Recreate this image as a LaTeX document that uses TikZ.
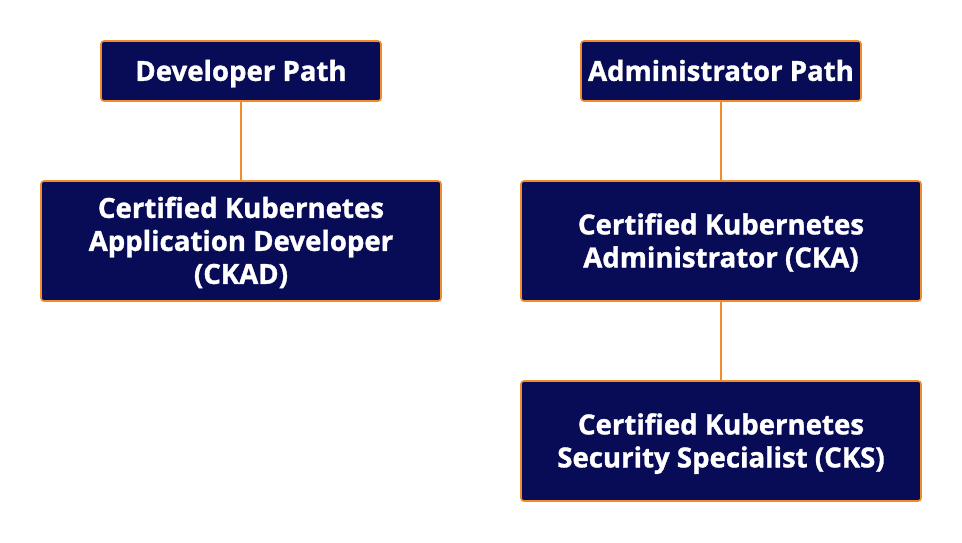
\documentclass[tikz,border=0pt]{standalone}
\usepackage{fontspec}
\setmainfont{Open Sans}[UprightFont=* Bold,UprightFeatures={FakeBold=1.2}]
\definecolor{navy}{HTML}{080B56}
\definecolor{borange}{HTML}{F28C28}
\begin{document}
\begin{tikzpicture}[x=1pt,y=-1pt,
  box/.style={draw=borange,line width=1.6pt,fill=navy,rounded corners=3pt,text=white,align=center,
    font=\fontsize{27.6}{33}\selectfont,inner sep=0pt,text depth=0pt},
  one/.style={box,minimum width=280pt,minimum height=60pt,text height=19.7pt},
  two/.style={box,minimum width=400pt,minimum height=120pt,text height=52.7pt},
  three/.style={box,minimum width=400pt,minimum height=120pt,text height=85.7pt},
  link/.style={draw=borange,line width=1.4pt}]
\useasboundingbox (0,0) rectangle (962,542);
\node[one] (dev) at (241,71) {Developer Path};
\node[three] (ckad) at (241,241) {Certified Kubernetes\\Application Developer\\(CKAD)};
\node[one] (adm) at (721,71) {Administrator Path};
\node[two] (cka) at (721,241) {Certified Kubernetes\\Administrator (CKA)};
\node[two] (cks) at (721,441) {Certified Kubernetes\\Security Specialist (CKS)};
\draw[link] (dev) -- (ckad);
\draw[link] (adm) -- (cka);
\draw[link] (cka) -- (cks);
\end{tikzpicture}
\end{document}
